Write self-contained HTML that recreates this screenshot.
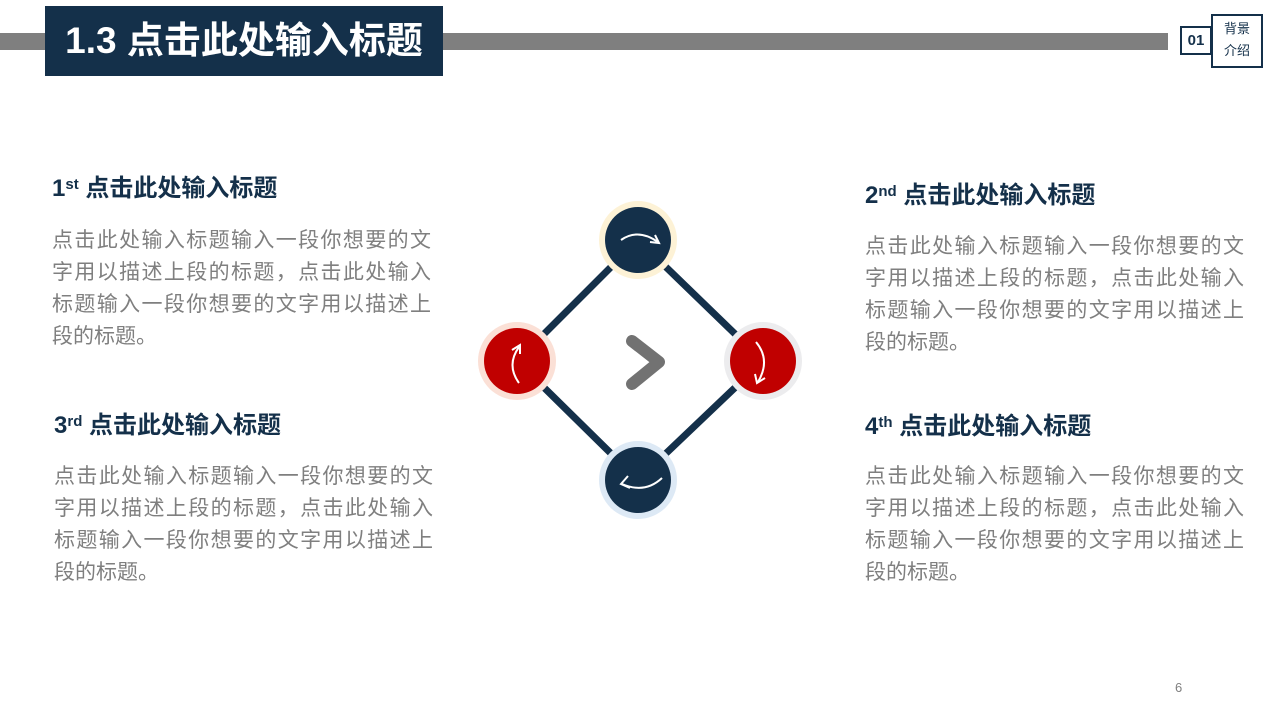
<!DOCTYPE html>
<html><head><meta charset="utf-8"><style>
body{margin:0;width:1280px;height:720px;background:#fff;position:relative;overflow:hidden;font-family:"Liberation Sans","Noto Sans CJK SC",sans-serif}
.a{position:absolute}
.h{position:absolute;font-size:24px;font-weight:bold;color:#14304a;white-space:nowrap;line-height:30px}
.h sup{font-size:15px;vertical-align:top;position:relative;top:-4px}
.p{position:absolute;font-size:21px;color:#7f7f7f;line-height:32px;width:379px}
.p div{text-align:justify;text-align-last:justify;white-space:nowrap}
.p div.l{text-align-last:left}
</style></head><body>
<div class="a" style="left:0;top:33px;width:1168px;height:17px;background:#7f7f7f"></div>
<div class="a" style="left:45px;top:6px;width:398px;height:70px;background:#14304a;color:#fff;font-size:37px;font-weight:bold;line-height:70px;text-align:center">1.3 点击此处输入标题</div>
<div class="a" style="left:1180px;top:26px;width:28px;height:25px;border:2px solid #14304a;font-size:15px;font-weight:bold;color:#14304a;text-align:center;line-height:25px">01</div>
<div class="a" style="left:1211px;top:14px;width:48px;height:48px;border:2px solid #14304a;font-size:13px;color:#14304a;text-align:center;line-height:22px;padding-top:2px;box-sizing:content-box">背景<br>介绍</div>

<div class="h" style="left:52px;top:174px">1<sup>st</sup> 点击此处输入标题</div>
<div class="p" style="left:52px;top:225px"><div>点击此处输入标题输入一段你想要的文</div><div>字用以描述上段的标题，点击此处输入</div><div>标题输入一段你想要的文字用以描述上</div><div class="l">段的标题。</div></div>
<div class="h" style="left:865px;top:181px">2<sup>nd</sup> 点击此处输入标题</div>
<div class="p" style="left:865px;top:231px"><div>点击此处输入标题输入一段你想要的文</div><div>字用以描述上段的标题，点击此处输入</div><div>标题输入一段你想要的文字用以描述上</div><div class="l">段的标题。</div></div>
<div class="h" style="left:54px;top:411px">3<sup>rd</sup> 点击此处输入标题</div>
<div class="p" style="left:54px;top:461px"><div>点击此处输入标题输入一段你想要的文</div><div>字用以描述上段的标题，点击此处输入</div><div>标题输入一段你想要的文字用以描述上</div><div class="l">段的标题。</div></div>
<div class="h" style="left:865px;top:412px">4<sup>th</sup> 点击此处输入标题</div>
<div class="p" style="left:865px;top:461px"><div>点击此处输入标题输入一段你想要的文</div><div>字用以描述上段的标题，点击此处输入</div><div>标题输入一段你想要的文字用以描述上</div><div class="l">段的标题。</div></div>

<svg class="a" style="left:0;top:0" width="1280" height="720">
<polygon points="638,240 763,361 638,480 517,361" fill="none" stroke="#14304a" stroke-width="7"/>
<circle cx="638" cy="240" r="39" fill="#fdf2d6"/><circle cx="638" cy="240" r="33" fill="#14304a"/>
<circle cx="517" cy="361" r="39" fill="#fbe0d6"/><circle cx="517" cy="361" r="33" fill="#c00000"/>
<circle cx="763" cy="361" r="39" fill="#ececee"/><circle cx="763" cy="361" r="33" fill="#c00000"/>
<circle cx="638" cy="480" r="39" fill="#dde9f5"/><circle cx="638" cy="480" r="33" fill="#14304a"/>
<g fill="none" stroke="#fff" stroke-width="2">
<path d="M621,240 Q638,228 658,242"/><path d="M650,242 L659,243 L655,235"/>
<path d="M519,383 Q506,365 519,347"/><path d="M512,350 L520,345 L520,354"/>
<path d="M756,342 Q771,360 758,382"/><path d="M755,374 L757,383 L765,378"/>
<path d="M662,478 Q645,494 622,484"/><path d="M628,476 L621,484 L630,488"/>
</g>
<polyline points="632,341 659,362 632,384" fill="none" stroke="#727272" stroke-width="12" stroke-linecap="round" stroke-linejoin="round"/>
<text x="1175" y="692" font-size="13" fill="#7f7f7f" font-family="Liberation Sans">6</text>
</svg>
</body></html>
